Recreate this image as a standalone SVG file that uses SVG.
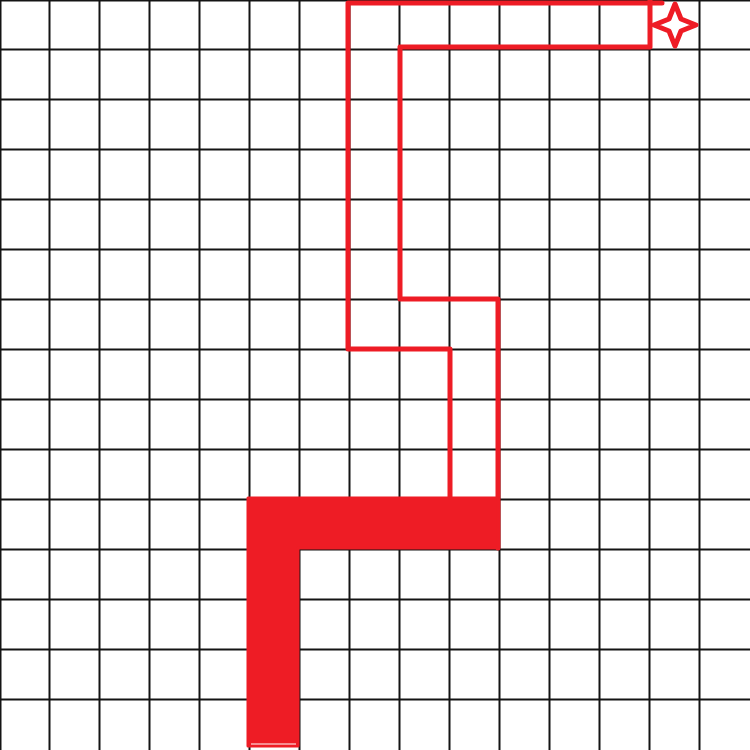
<svg xmlns="http://www.w3.org/2000/svg" width="750" height="750" viewBox="0 0 750 750">
<style>
.g{stroke:#141414;stroke-width:2;fill:none}
.r{stroke:#ee1c25;stroke-width:5;fill:none;stroke-linejoin:round;stroke-linecap:round}
</style>
<rect width="750" height="750" fill="#fff"/>
<g id="grid" class="g">
<path d="M0.5 0V750M49.5 0V750M99.5 0V750M149.5 0V750M199.5 0V750M249.5 0V750M299.5 0V750M349.5 0V750M399.5 0V750M449.5 0V750M499.5 0V750M549.5 0V750M599.5 0V750M649.5 0V750M699.5 0V750"/>
<path d="M0 0.5H750M0 49.5H750M0 99.5H750M0 149.5H750M0 199.5H750M0 249.5H750M0 299.5H750M0 349.5H750M0 399.5H750M0 449.5H750M0 499.5H750M0 549.5H750M0 599.5H750M0 649.5H750M0 699.5H750"/>
</g>
<g id="route">
<path class="r" d="M450 498V349H348V3H662M650 0V47H400V299H498V548"/>
<polygon id="thick" points="248,498 498,498 498,548 298,548 298,746 248,746" fill="#ee1c25" stroke="#ee1c25" stroke-width="3" stroke-linejoin="round"/>
<line x1="251" y1="744" x2="296" y2="744" stroke="#fff" stroke-width="1"/>
</g>
<g id="star">
<polygon class="r" stroke-width="4" fill="#fff" points="675,4 681,19 696,25 681,31 675,46 669,31 654,25 669,19"/>
</g>
</svg>
